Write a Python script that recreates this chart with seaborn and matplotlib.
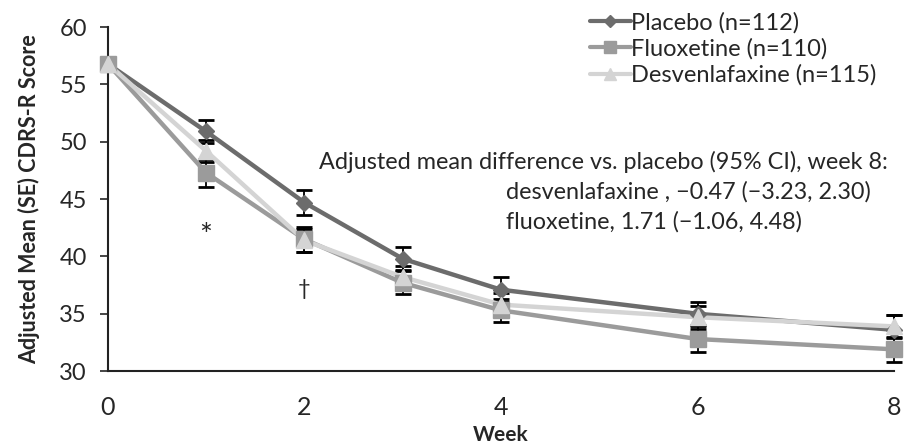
import pandas as pd
import seaborn as sns
import matplotlib.pyplot as plt

# values
weeks = [0, 1, 2, 3, 4, 6, 8]
placebo = [56.8, 50.9, 44.7, 39.8, 37.1, 35.0, 33.6]
fluoxetine = [56.8, 47.3, 41.5, 37.7, 35.3, 32.8, 31.9]
desvenlafaxine = [56.8, 49.2, 41.4, 38.2, 35.8, 34.7, 33.9]
se_placebo = [0.0, 1.0, 1.1, 1.0, 1.1, 1.0, 1.3]
se_fluoxetine = [0.0, 1.2, 1.1, 1.0, 1.0, 1.1, 1.1]
se_desvenlafaxine = [0.0, 1.0, 1.0, 1.0, 1.0, 1.0, 1.0]
groups = ["Placebo (n=112)", "Fluoxetine (n=110)", "Desvenlafaxine (n=115)"]

sns.set_style("white")
plt.rcParams["font.family"] = ["Lato", "DejaVu Sans"]

df = pd.concat([
    pd.DataFrame({"week": weeks, "score": placebo, "se": se_placebo, "group": groups[0]}),
    pd.DataFrame({"week": weeks, "score": fluoxetine, "se": se_fluoxetine, "group": groups[1]}),
    pd.DataFrame({"week": weeks, "score": desvenlafaxine, "se": se_desvenlafaxine, "group": groups[2]}),
])

colors = {groups[0]: "#6c6c6c", groups[1]: "#9b9b9b", groups[2]: "#d4d4d4"}
markers = {groups[0]: "D", groups[1]: "s", groups[2]: "^"}
msizes = {groups[0]: 8, groups[1]: 11, groups[2]: 11}

fig = plt.figure(figsize=(9.06, 4.45), dpi=100)
ax = fig.add_axes([0.119, 0.166, 0.868, 0.773])

# error bars first (black, capped)
for g in groups:
    d = df[df["group"] == g]
    ax.errorbar(d["week"], d["score"], yerr=d["se"], fmt="none", ecolor="black",
                elinewidth=1.3, capsize=6, capthick=2, zorder=2, clip_on=False)

sns.lineplot(data=df, x="week", y="score", hue="group", palette=colors,
             linewidth=3.2, ax=ax, legend=False, zorder=3)
for line in ax.lines:
    line.set_clip_on(False)

# markers on top
for g in groups:
    d = df[df["group"] == g]
    ax.plot(d["week"], d["score"], linestyle="none", marker=markers[g],
            markersize=msizes[g], color=colors[g], zorder=4, clip_on=False)

# legend handles
handles = [plt.Line2D([], [], color=colors[g], lw=3, marker=markers[g],
                      markersize=msizes[g] - 2) for g in groups]
fig.legend(handles, groups, loc="upper left", bbox_to_anchor=(0.636, 1.005),
           frameon=False, fontsize=17, handlelength=1.7, handletextpad=0.0,
           labelspacing=0.2, borderaxespad=0.2)

ax.set_xlim(0, 8)
ax.set_ylim(30, 60)
ax.set_xticks([0, 2, 4, 6, 8])
ax.set_yticks([30, 35, 40, 45, 50, 55, 60])
ax.tick_params(axis="x", direction="in", length=6, width=1.2, labelsize=18, pad=18)
ax.tick_params(axis="y", direction="out", length=6, width=1.2, labelsize=17, left=True, pad=9)
for s in ["top", "right"]:
    ax.spines[s].set_visible(False)
for s in ["left", "bottom"]:
    ax.spines[s].set_linewidth(1.5)
    ax.spines[s].set_color("#222222")

ax.set_xlabel("Week", fontsize=15, fontweight="bold", labelpad=4)
ax.set_ylabel("Adjusted Mean (SE) CDRS-R Score", fontsize=15.5, fontweight="bold", labelpad=14)

ax.text(1, 41.8, "*", ha="center", va="center", fontsize=22)
ax.text(2, 37.2, "\u2020", ha="center", va="center", fontsize=16)

ax.text(2.15, 48.2, "Adjusted mean difference vs. placebo (95% CI), week 8:",
        ha="left", va="center", fontsize=16.8)
ax.text(4.05, 45.6, "desvenlafaxine , \u22120.47 (\u22123.23, 2.30)",
        ha="left", va="center", fontsize=16.8)
ax.text(4.05, 43.0, "fluoxetine, 1.71 (\u22121.06, 4.48)",
        ha="left", va="center", fontsize=16.8)

fig.savefig("out.png", dpi=100)
